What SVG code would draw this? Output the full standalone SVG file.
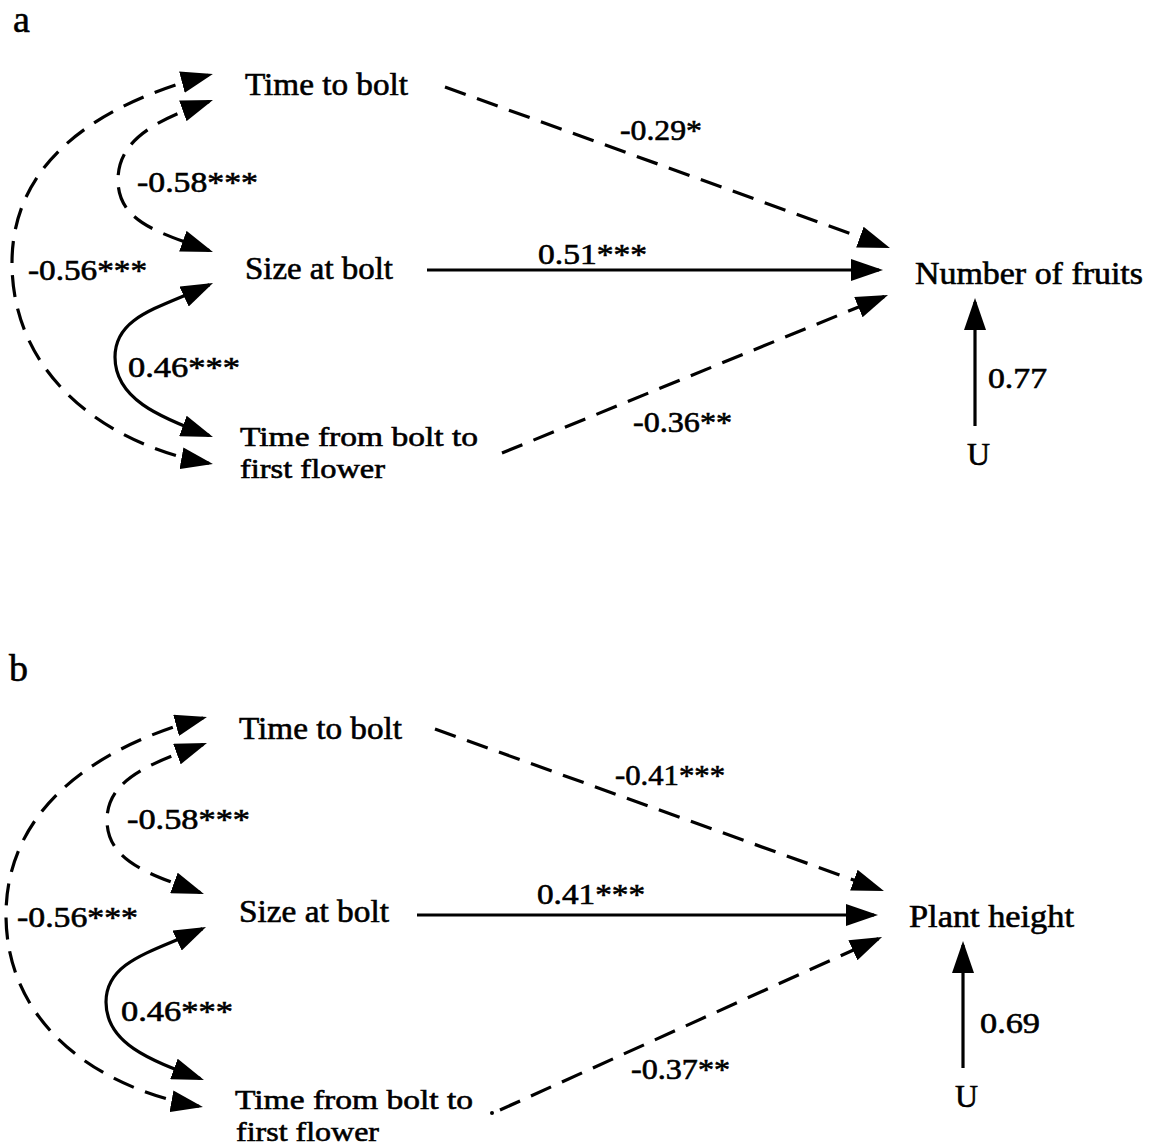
<svg xmlns="http://www.w3.org/2000/svg" width="1150" height="1147" viewBox="0 0 1150 1147">
<style>
text{font-family:"Liberation Serif","Times New Roman",serif;fill:#000;stroke:#000;stroke-width:0.6}
.node{font-size:31px}
.node2{font-size:28px}
.coef{font-size:29px}
.panel{font-size:38px}
.c{fill:none;stroke:#000;stroke-width:3.2}
.d{stroke-dasharray:22 12}
</style>
<defs>
<marker id="ah" markerUnits="userSpaceOnUse" markerWidth="32" markerHeight="22" refX="28" refY="11" orient="auto-start-reverse">
<path d="M0,0 L32,11 L0,22 z" fill="#000"/>
</marker>
</defs>
<rect width="1150" height="1147" fill="#fff"/>

<g id="panel-a">
<text class="panel" x="13" y="32">a</text>
<g id="a-time-to-bolt"><text class="node" x="245" y="95" textLength="163" lengthAdjust="spacingAndGlyphs">Time to bolt</text></g>
<g id="a-size-at-bolt"><text class="node" x="245" y="279" textLength="148" lengthAdjust="spacingAndGlyphs">Size at bolt</text></g>
<g id="a-time-from-bolt"><text class="node2" x="240" y="446" textLength="238" lengthAdjust="spacingAndGlyphs">Time from bolt to</text><text class="node2" x="240" y="478" textLength="145" lengthAdjust="spacingAndGlyphs">first flower</text></g>
<g id="a-number-of-fruits"><text class="node" x="915" y="284" textLength="228" lengthAdjust="spacingAndGlyphs">Number of fruits</text></g>
<g id="a-u"><text class="node" x="967" y="465" textLength="23" lengthAdjust="spacingAndGlyphs">U</text></g>
<g id="a-connectors">
<path class="c d" d="M445,87 L886.2,246.6" marker-end="url(#ah)"/>
<path class="c" d="M427,270 L879,270" marker-end="url(#ah)"/>
<path class="c d" d="M502,453 L884.3,296.5" marker-end="url(#ah)"/>
<path class="c" d="M975,426 L975,302" marker-end="url(#ah)"/>
<path class="c d" d="M209,463.3 C103,444 12,373 12,263 C12,158 103,103 209,75" marker-start="url(#ah)" marker-end="url(#ah)"/>
<path class="c d" d="M209.2,101.4 C160,119 118,138 118,180 C118,222 160,233 209.2,250.6" marker-start="url(#ah)" marker-end="url(#ah)"/>
<path class="c" d="M209.4,284.7 C159.6,308 115,316 115,357 C115,398 157.5,416.8 209.2,435.6" marker-start="url(#ah)" marker-end="url(#ah)"/>
</g>
<g id="a-labels">
<text class="coef" x="620" y="140" textLength="82" lengthAdjust="spacingAndGlyphs">-0.29*</text>
<text class="coef" x="538" y="264" textLength="109" lengthAdjust="spacingAndGlyphs">0.51***</text>
<text class="coef" x="633" y="432" textLength="99" lengthAdjust="spacingAndGlyphs">-0.36**</text>
<text class="coef" x="988" y="388" textLength="59" lengthAdjust="spacingAndGlyphs">0.77</text>
<text class="coef" x="137" y="192" textLength="121" lengthAdjust="spacingAndGlyphs">-0.58***</text>
<text class="coef" x="28" y="280" textLength="119" lengthAdjust="spacingAndGlyphs">-0.56***</text>
<text class="coef" x="128" y="377" textLength="112" lengthAdjust="spacingAndGlyphs">0.46***</text>
</g>
</g>

<g id="panel-b">
<text class="panel" x="9" y="681">b</text>
<g id="b-time-to-bolt"><text class="node" x="239" y="739" textLength="163" lengthAdjust="spacingAndGlyphs">Time to bolt</text></g>
<g id="b-size-at-bolt"><text class="node" x="239" y="922" textLength="150" lengthAdjust="spacingAndGlyphs">Size at bolt</text></g>
<g id="b-time-from-bolt"><text class="node2" x="235" y="1109" textLength="238" lengthAdjust="spacingAndGlyphs">Time from bolt to</text><text class="node2" x="236" y="1141" textLength="143" lengthAdjust="spacingAndGlyphs">first flower</text></g>
<g id="b-plant-height"><text class="node" x="909" y="927" textLength="165" lengthAdjust="spacingAndGlyphs">Plant height</text></g>
<g id="b-u"><text class="node" x="955" y="1107" textLength="23" lengthAdjust="spacingAndGlyphs">U</text></g>
<g id="b-connectors">
<path class="c d" d="M435,729 L880.2,889.6" marker-end="url(#ah)"/>
<path class="c" d="M417,915 L874,915" marker-end="url(#ah)"/>
<circle cx="492" cy="1113" r="2" fill="#000"/>
<path class="c d" d="M500,1110 L878.4,938.7" marker-end="url(#ah)"/>
<path class="c" d="M963,1068 L963,945" marker-end="url(#ah)"/>
<path class="c d" d="M199,1106.3 C93,1087 6,1021 6,915 C6,806 100.7,745.5 203.1,718" marker-start="url(#ah)" marker-end="url(#ah)"/>
<path class="c d" d="M203.2,744.4 C154.4,762.2 107,778 107,820 C107,862 151.4,874.8 200.2,892.6" marker-start="url(#ah)" marker-end="url(#ah)"/>
<path class="c" d="M202.4,928.7 C152.6,952 106,961 106,1002 C106,1043 148.5,1059.8 200.2,1078.6" marker-start="url(#ah)" marker-end="url(#ah)"/>
</g>
<g id="b-labels">
<text class="coef" x="615" y="785" textLength="110" lengthAdjust="spacingAndGlyphs">-0.41***</text>
<text class="coef" x="537" y="904" textLength="108" lengthAdjust="spacingAndGlyphs">0.41***</text>
<text class="coef" x="631" y="1079" textLength="99" lengthAdjust="spacingAndGlyphs">-0.37**</text>
<text class="coef" x="980" y="1033" textLength="60" lengthAdjust="spacingAndGlyphs">0.69</text>
<text class="coef" x="127" y="829" textLength="123" lengthAdjust="spacingAndGlyphs">-0.58***</text>
<text class="coef" x="17" y="927" textLength="121" lengthAdjust="spacingAndGlyphs">-0.56***</text>
<text class="coef" x="121" y="1021" textLength="112" lengthAdjust="spacingAndGlyphs">0.46***</text>
</g>
</g>
</svg>
